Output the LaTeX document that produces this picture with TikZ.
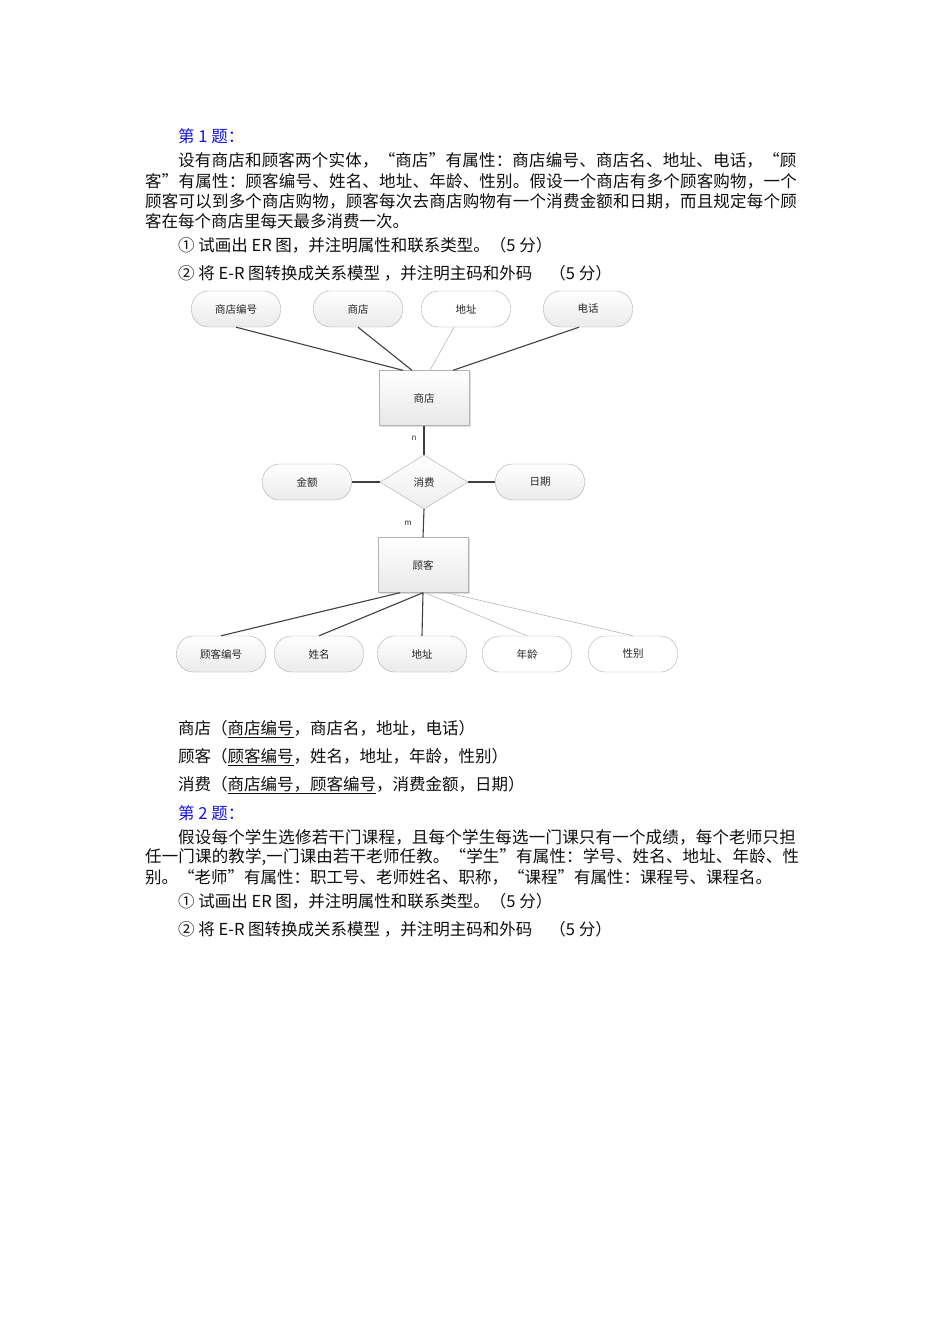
\documentclass[tikz,border=0pt]{standalone}
\usepackage{fontspec}
\setmainfont{Noto Sans CJK SC}
\usetikzlibrary{shapes.geometric,shadows}
\definecolor{qblue}{RGB}{20,20,225}
\definecolor{txt}{RGB}{15,15,15}
\newcommand\spaced[2]{{\addfontfeature{LetterSpace=#1}#2}}
\begin{document}
\begin{tikzpicture}[x=1pt,y=-1pt,
  body/.style={anchor=west, inner sep=0pt, text=txt, font=\fontsize{16.5}{20}\selectfont},
  head/.style={body, text=qblue},
  attr/.style={draw=gray!65, rounded corners=17pt, minimum width=89pt, minimum height=36pt,
    top color=white, bottom color=gray!16, inner sep=0pt, text=black!85,
    font=\fontsize{10.5}{12}\selectfont},
  attrw/.style={attr, top color=white, bottom color=white},
  ent/.style={draw=gray!60, minimum width=90pt, minimum height=55pt, inner sep=0pt,
    top color=white, bottom color=gray!18, text=black!85, font=\fontsize{10.5}{12}\selectfont,
    drop shadow={shadow xshift=1.5pt, shadow yshift=-1.5pt, opacity=0.25}},
  relship/.style={diamond, draw=gray!65, minimum width=88pt, minimum height=54pt, inner sep=0pt,
    aspect=1.6, top color=white, bottom color=gray!14, text=black!85, font=\fontsize{10.5}{12}\selectfont},
  dk/.style={draw=black!75, line width=1.1pt},
  lt/.style={draw=gray!55, line width=0.6pt},
  card/.style={inner sep=0pt, text=black!80, font=\fontsize{8}{10}\selectfont}
]
\useasboundingbox[fill=white] (0,0) rectangle (950,1344);

% ---- question 1 text ----
\node[head] (h1) at (178,136) {第 1 题：};
\node[body] (p1) at (178,160) {\spaced{1.3}{设有商店和顾客两个实体，“商店”有属性：商店编号、商店名、地址、电话，“顾}};
\node[body] (p2) at (145,181) {\spaced{1.3}{客”有属性：顾客编号、姓名、地址、年龄、性别。假设一个商店有多个顾客购物，一个}};
\node[body] (p3) at (145,201) {\spaced{1.3}{顾客可以到多个商店购物，顾客每次去商店购物有一个消费金额和日期，而且规定每个顾}};
\node[body] (p4) at (145,221) {客在每个商店里每天最多消费一次。};
\node[body] (q1) at (178,245) {① 试画出 ER 图，并注明属性和联系类型。（5 分）};
\node[body] (q2) at (178,273) {② 将 E-R 图转换成关系模型 ，并注明主码和外码\hspace{17pt}（5 分）};

% ---- ER diagram ----
\node[attr]  (a1) at (236,309) {商店编号};
\node[attr]  (a2) at (358,309) {商店};
\node[attrw] (a3) at (466,309) {地址};
\node[attr]  (a4) at (588,309) {电话};

\node[ent] (shop) at (424,398) {商店};
\node[relship] (buy) at (424,482) {消费};
\node[ent] (cust) at (423,565) {顾客};

\node[attr]  (m1) at (307,482) {金额};
\node[attr]  (m2) at (540,482) {日期};

\node[attr]  (c1) at (221,654) {顾客编号};
\node[attr]  (c2) at (319,654) {姓名};
\node[attr]  (c3) at (422,654) {地址};
\node[attrw] (c4) at (527,654) {年龄};
\node[attrw] (c5) at (633,654) {性别};

\draw[dk] (a1.south) -- ([xshift=-21pt]shop.north);
\draw[dk] (a2.south) -- ([xshift=-12pt]shop.north);
\draw[lt] ([xshift=-12pt]a3.south) -- ([xshift=6pt]shop.north);
\draw[dk] ([xshift=-9pt]a4.south) -- ([xshift=29pt]shop.north);

\draw[dk] (shop.south) -- (buy.north);
\draw[dk] (buy.south) -- (cust.north);
\draw[dk] (m1.east) -- (buy.west);
\draw[dk] (buy.east) -- (m2.west);
\node[card] (n1) at (414,438) {n};
\node[card] (n2) at (408,523) {m};

\draw[dk] ([xshift=-23pt]cust.south) -- (c1.north);
\draw[dk] (cust.south) -- (c2.north);
\draw[dk] (cust.south) -- (c3.north);
\draw[lt] ([xshift=2pt]cust.south) -- (c4.north);
\draw[lt] ([xshift=24pt]cust.south) -- (c5.north);

% ---- relational schema ----
\node[body] (r1) at (178,729) {商店（\underline{商店编号}，商店名，地址，电话）};
\node[body] (r2) at (178,757) {顾客（\underline{顾客编号}，姓名，地址，年龄，性别）};
\node[body] (r3) at (178,785) {消费（\underline{商店编号，顾客编号}，消费金额，日期）};

% ---- question 2 text ----
\node[head] (h2) at (178,813) {第 2 题：};
\node[body] (s1) at (178,837) {\spaced{1.2}{假设每个学生选修若干门课程，且每个学生每选一门课只有一个成绩，每个老师只担}};
\node[body] (s2) at (145,857) {\spaced{0.9}{任一门课的教学,一门课由若干老师任教。“学生”有属性：学号、姓名、地址、年龄、性}};
\node[body] (s3) at (145,877) {别。“老师”有属性：职工号、老师姓名、职称，“课程”有属性：课程号、课程名。};
\node[body] (t1) at (178,901) {① 试画出 ER 图，并注明属性和联系类型。（5 分）};
\node[body] (t2) at (178,929) {② 将 E-R 图转换成关系模型 ，并注明主码和外码\hspace{17pt}（5 分）};
\end{tikzpicture}
\end{document}
